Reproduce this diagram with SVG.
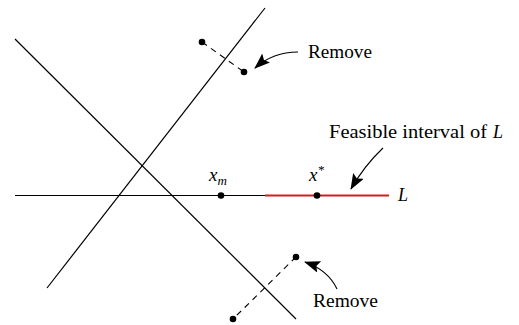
<svg xmlns="http://www.w3.org/2000/svg" width="519" height="325" viewBox="0 0 519 325">
<style>
.ln{stroke:#000;stroke-width:1.2;fill:none}
.dash{stroke:#000;stroke-width:1.1;fill:none;stroke-dasharray:6 5}
.red{stroke:#d01f1f;stroke-width:1.8;fill:none}
.arr{stroke:#000;stroke-width:1.1;fill:none;marker-end:url(#ah)}
.dot{fill:#000}
</style>
<defs>
<marker id="ah" markerUnits="userSpaceOnUse" markerWidth="18" markerHeight="14" refX="15" refY="6" orient="auto">
<path d="M0,0 L16,6 L0,12 L3,6 z" fill="#000"/>
</marker>
</defs>
<g id="lines">
<line class="ln" x1="15" y1="39" x2="296" y2="319"/>
<line class="ln" x1="47" y1="288" x2="265" y2="8"/>
<line class="ln" x1="15" y1="195.5" x2="266" y2="195.5"/>
<line class="red" x1="265" y1="195.5" x2="389" y2="195.5"/>
</g>
<g id="connectors">
<line class="dash" x1="202" y1="42" x2="244" y2="72"/>
<line class="dash" x1="296" y1="257" x2="233" y2="319"/>
<path class="arr" d="M298,52 Q273,52 255,68"/>
<path class="arr" d="M337,289 Q328,270 305,262"/>
<path class="arr" d="M383,148 Q364,166 351,189"/>
</g>
<g id="points">
<circle class="dot" cx="202" cy="42" r="3.3"/>
<circle class="dot" cx="244" cy="72" r="3.3"/>
<circle class="dot" cx="296" cy="257" r="3.3"/>
<circle class="dot" cx="233" cy="319" r="3.3"/>
<circle class="dot" cx="221" cy="195.5" r="3.3"/>
<circle class="dot" cx="317" cy="195.5" r="3.3"/>
</g>
<g id="labels" font-family="Liberation Serif, DejaVu Serif, serif" fill="#000">
<text x="308" y="58" font-size="18" textLength="64" lengthAdjust="spacingAndGlyphs">Remove</text>
<text x="313" y="307" font-size="18" textLength="65" lengthAdjust="spacingAndGlyphs">Remove</text>
<text x="329" y="138" font-size="18" textLength="158" lengthAdjust="spacingAndGlyphs">Feasible interval of</text>
<text x="493" y="138" font-size="18" font-style="italic">L</text>
<text x="398" y="201" font-size="18" font-style="italic">L</text>
<text x="209" y="181" font-size="19" font-style="italic">x<tspan font-size="13" dy="4">m</tspan></text>
<text x="309" y="181" font-size="19" font-style="italic">x<tspan font-size="13" dy="-7">*</tspan></text>
</g>
</svg>
